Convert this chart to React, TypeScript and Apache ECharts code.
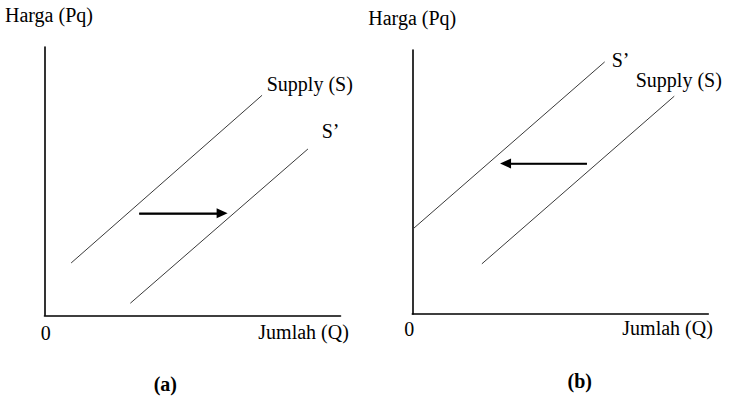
import React, { useEffect, useRef } from "react";
import * as echarts from "echarts";

// Panel (a): supply increases (shift right)
const supplyA: number[][] = [[0.9, 1.95], [7.35, 8.2]];
const shiftedA: number[][] = [[2.9, 0.45], [8.9, 6.2]];
const arrowA: number[][] = [[3.2, 3.8], [6.0, 3.8]];

// Panel (b): supply decreases (shift left)
const shiftedB: number[][] = [[0, 3.2], [6.5, 9.55]];
const supplyB: number[][] = [[2.35, 1.9], [8.85, 8.25]];
const arrowB: number[][] = [[5.9, 5.7], [3.15, 5.7]];

const axisTitleY = "Harga (Pq)";
const axisTitleX = "Jumlah (Q)";
const originLabel = "0";
const curveS = "Supply (S)";
const curveS2 = "S\u2019";
const panelLabels = ["(a)", "(b)"];

const FONT = "'Liberation Serif', 'Times New Roman', serif";

export default function App() {
  const ref = useRef<HTMLDivElement>(null);
  useEffect(() => {
    if (!ref.current) return;
    const chart = echarts.init(ref.current, undefined, { renderer: "svg" });

    const axisCommon = {
      type: "value" as const,
      min: 0,
      max: 10,
      axisLine: { show: true, onZero: false, lineStyle: { color: "#000", width: 1.6 } },
      axisTick: { show: false },
      axisLabel: { show: false },
      splitLine: { show: false },
    };

    const curve = (data: number[][], idx: number) => ({
      type: "line" as const,
      xAxisIndex: idx,
      yAxisIndex: idx,
      data,
      symbol: "none",
      silent: true,
      lineStyle: { color: "#3a3a3a", width: 1 },
    });

    const arrow = (data: number[][], idx: number) => ({
      type: "line" as const,
      xAxisIndex: idx,
      yAxisIndex: idx,
      data,
      symbol: "none",
      silent: true,
      lineStyle: { color: "#000", width: 1.6 },
      markLine: {
        silent: true,
        symbol: ["none", "triangle"],
        symbolSize: [10, 11],
        label: { show: false },
        lineStyle: { color: "#000", width: 1.6, type: "solid" },
        data: [[{ coord: data[0] }, { coord: data[1] }]],
      },
    });

    const txt = (text: string, x: number, y: number, opts: any = {}) => ({
      type: "text",
      x,
      y,
      silent: true,
      style: {
        text,
        fill: "#000",
        font: `${opts.bold ? "bold " : ""}20px ${FONT}`,
        align: opts.align || "left",
        verticalAlign: "middle",
      },
    });

    chart.setOption({
      animation: false,
      backgroundColor: "#fff",
      grid: [
        { left: 44.5, top: 47, width: 296, height: 268.3 },
        { left: 412.3, top: 50, width: 296, height: 264 },
      ],
      xAxis: [
        { ...axisCommon, gridIndex: 0 },
        { ...axisCommon, gridIndex: 1 },
      ],
      yAxis: [
        { ...axisCommon, gridIndex: 0 },
        { ...axisCommon, gridIndex: 1 },
      ],
      series: [
        curve(supplyA, 0),
        curve(shiftedA, 0),
        arrow(arrowA, 0),
        curve(shiftedB, 1),
        curve(supplyB, 1),
        arrow(arrowB, 1),
      ],
      graphic: [
        txt(axisTitleY, 5, 14.5),
        txt(curveS, 266.7, 84),
        txt(curveS2, 321.7, 131),
        txt(originLabel, 40.7, 333),
        txt(axisTitleX, 258.3, 332),
        txt(panelLabels[0], 165.3, 384, { bold: true, align: "center" }),
        txt(axisTitleY, 368.3, 18.3),
        txt(curveS2, 611.7, 60),
        txt(curveS, 635.7, 80.3),
        txt(originLabel, 404.3, 329),
        txt(axisTitleX, 622.3, 328),
        txt(panelLabels[1], 579.7, 380.5, { bold: true, align: "center" }),
      ],
    });
    return () => chart.dispose();
  }, []);
  return (
    <div
      ref={ref}
      style={{ position: "fixed", left: 0, top: 0, width: 730, height: 399, background: "#fff" }}
    />
  );
}
